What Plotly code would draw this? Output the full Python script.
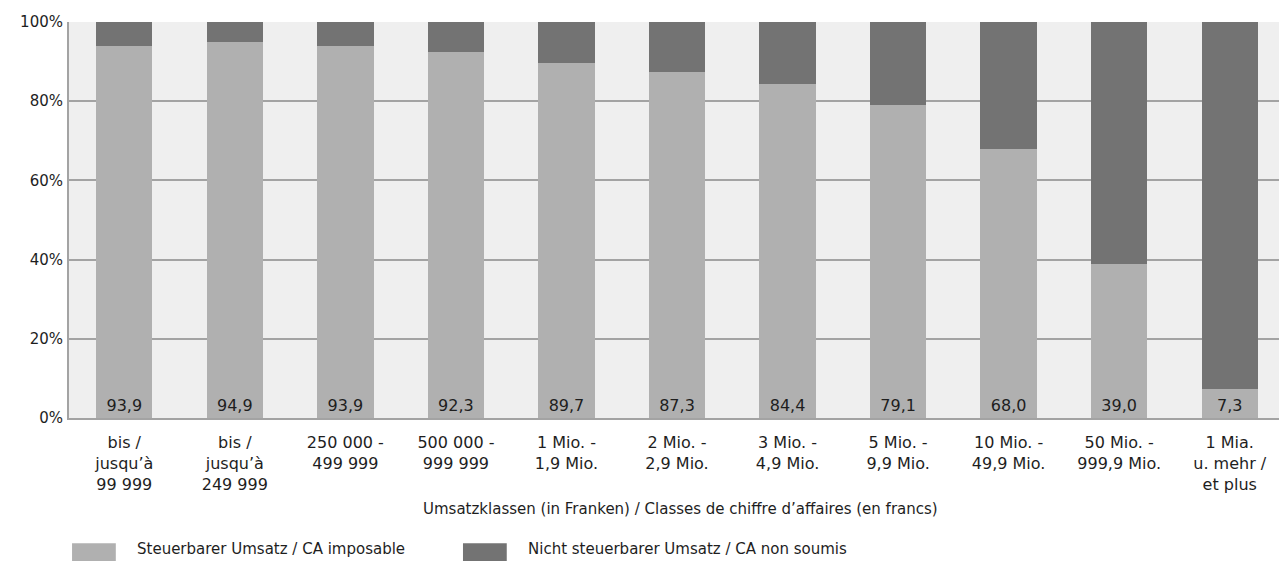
import plotly.graph_objects as go

# Umsatzklassen / classes de chiffre d'affaires
categories = [
    "bis /<br>jusqu’à<br>99 999",
    "bis /<br>jusqu’à<br>249 999",
    "250 000 -<br>499 999",
    "500 000 -<br>999 999",
    "1 Mio. -<br>1,9 Mio.",
    "2 Mio. -<br>2,9 Mio.",
    "3 Mio. -<br>4,9 Mio.",
    "5 Mio. -<br>9,9 Mio.",
    "10 Mio. -<br>49,9 Mio.",
    "50 Mio. -<br>999,9 Mio.",
    "1 Mia.<br>u. mehr /<br>et plus",
]
steuerbar = [93.9, 94.9, 93.9, 92.3, 89.7, 87.3, 84.4, 79.1, 68.0, 39.0, 7.3]
nicht_steuerbar = [6.1, 5.1, 6.1, 7.7, 10.3, 12.7, 15.6, 20.9, 32.0, 61.0, 92.7]

y_ticks = [0, 20, 40, 60, 80, 100]
y_ticklabels = ["0%", "20%", "40%", "60%", "80%", "100%"]

legend_names = ["Steuerbarer Umsatz / CA imposable",
                "Nicht steuerbarer Umsatz / CA non soumis"]

LIGHT = "#b0b0b0"
DARK = "#737373"
FONT = "DejaVu Sans"
TXT = "#1e1e1e"

labels = [f"{v:.1f}".replace(".", ",") for v in steuerbar]

fig = go.Figure()
fig.add_trace(go.Bar(
    x=categories, y=steuerbar, name=legend_names[0],
    marker=dict(color=LIGHT, line=dict(width=0)),
    text=labels, textposition="inside", insidetextanchor="start",
    textangle=0, constraintext="none",
    insidetextfont=dict(family=FONT, size=16, color=TXT),
    showlegend=False,
))
fig.add_trace(go.Bar(
    x=categories, y=nicht_steuerbar, name=legend_names[1],
    marker=dict(color=DARK, line=dict(width=0)),
    showlegend=False,
))

# page body has an 8px margin, so the figure is a bit smaller
fig.update_layout(
    barmode="stack",
    bargap=0.49,
    width=1279, height=553,
    margin=dict(l=61, r=2, t=14, b=143),
    paper_bgcolor="white",
    plot_bgcolor="#efefef",
    font=dict(family=FONT, size=15, color=TXT),
)
fig.update_yaxes(
    range=[0, 100], tickvals=y_ticks, ticktext=y_ticklabels,
    showgrid=True, gridcolor="#a3a3a3", gridwidth=1.5,
    showline=True, linecolor="#a3a3a3", linewidth=2,
    ticks="", tickfont=dict(size=15, color=TXT), ticklabelstandoff=1,
    zeroline=False, automargin=False,
)
fig.update_xaxes(
    showline=True, linecolor="#a3a3a3", linewidth=2,
    ticks="", tickfont=dict(size=16, color=TXT), ticklabelstandoff=9,
    tickangle=0, automargin=False,
)

# axis title
fig.add_annotation(
    text="Umsatzklassen (in Franken) / Classes de chiffre d’affaires (en francs)",
    xref="paper", yref="paper", x=0.503, y=-0.230, xanchor="center", yanchor="middle",
    showarrow=False, font=dict(size=15, color=TXT),
)

# legend drawn by hand for wide swatches
legend_items = [(0.0025, LIGHT, legend_names[0]), (0.324, DARK, legend_names[1])]
for x0, col, name in legend_items:
    fig.add_shape(type="rect", xref="paper", yref="paper",
                  x0=x0, x1=x0 + 0.036, y0=-0.362, y1=-0.316,
                  fillcolor=col, line=dict(width=0))
    fig.add_annotation(text=name, xref="paper", yref="paper",
                       x=x0 + 0.052, y=-0.332, xanchor="left", yanchor="middle",
                       showarrow=False, font=dict(size=15, color=TXT))

fig.write_html("out.html")
